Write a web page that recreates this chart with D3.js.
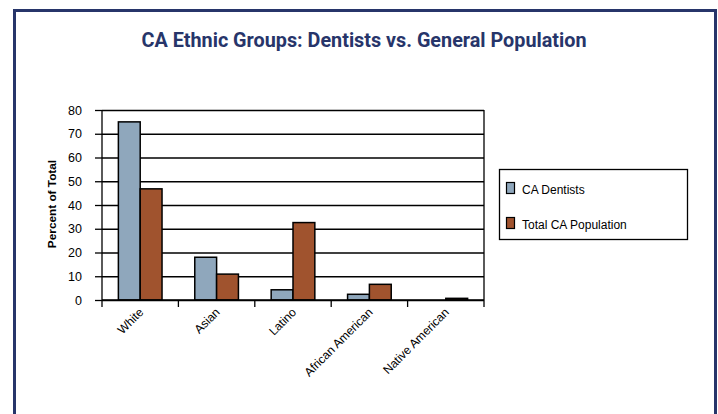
<!DOCTYPE html>
<html>
<head>
<meta charset="utf-8">
<script src="https://cdn.jsdelivr.net/npm/d3@7"></script>
<style>
    html, body { margin: 0; padding: 0; background: #fff; }
    svg { display: block; }
</style>
</head>
<body>
<div id="chart"></div>
<script>
'use strict';

var title = 'CA Ethnic Groups: Dentists vs. General Population';
var yLabel = 'Percent of Total';
var categories = ['White', 'Asian', 'Latino', 'African American', 'Native American'];
var seriesNames = ['CA Dentists', 'Total CA Population'];
var dentists = [75, 18, 4.3, 2.4, 0];
var population = [46.8, 10.9, 32.6, 6.6, 0.7];
var yTicks = [0, 10, 20, 30, 40, 50, 60, 70, 80];

var seriesColors = ['#8fa7bc', '#a0532e'];
var navy = '#27356a';
var width = 718, height = 414;

var svg = d3.select('#chart').append('svg')
    .attr('width', width)
    .attr('height', height);

//frame around the whole thing, open at the bottom
svg.append('path')
    .attr('d', 'M 14.5 ' + (height + 5) + ' L 14.5 10.5 L 715.5 10.5 L 715.5 ' + (height + 5))
    .attr('fill', 'none')
    .attr('stroke', navy)
    .attr('stroke-width', 3);

svg.append('text')
    .attr('x', 364)
    .attr('y', 47)
    .attr('text-anchor', 'middle')
    .attr('font-family', 'Roboto, "DejaVu Sans", sans-serif')
    .attr('font-weight', 'bold')
    .attr('font-size', 20.5)
    .attr('textLength', 445)
    .attr('lengthAdjust', 'spacingAndGlyphs')
    .attr('fill', navy)
    .text(title);

//plot area
var plot = { left: 102, right: 484, top: 110, bottom: 300 };

var x = d3.scaleBand()
    .domain(categories)
    .range([plot.left, plot.right])
    .padding(0);

var x1 = d3.scaleBand()
    .domain(seriesNames)
    .range([0, x.bandwidth()])
    .paddingInner(0)
    .paddingOuter(0.75);

var y = d3.scaleLinear()
    .domain([0, 80])
    .range([plot.bottom, plot.top]);

var font = '"Liberation Sans", Arial, sans-serif';

//gridlines
svg.append('g')
    .attr('transform', 'translate(' + plot.left + ',0)')
    .call(d3.axisLeft(y).tickValues(yTicks).tickSize(-(plot.right - plot.left)).tickFormat(''))
    .call(function(g) { g.select('.domain').remove(); })
    .selectAll('line')
    .attr('stroke', '#000')
    .attr('stroke-width', 1.3);

//right edge of the plot
svg.append('line')
    .attr('x1', plot.right).attr('x2', plot.right)
    .attr('y1', plot.top).attr('y2', plot.bottom + 7)
    .attr('stroke', '#000')
    .attr('stroke-width', 1.3);

//bars
var rows = categories.map(function(c, i) {
    return { category: c, values: [dentists[i], population[i]] };
});

svg.append('g')
    .selectAll('g')
    .data(rows)
    .enter().append('g')
    .attr('transform', function(d) { return 'translate(' + x(d.category) + ',0)'; })
    .selectAll('rect')
    .data(function(d) {
        return d.values.map(function(v, j) { return { name: seriesNames[j], value: v, color: seriesColors[j] }; });
    })
    .enter().append('rect')
    .filter(function(d) { return d.value > 0; })
    .attr('x', function(d) { return x1(d.name); })
    .attr('y', function(d) { return y(d.value); })
    .attr('width', x1.bandwidth())
    .attr('height', function(d) { return y(0) - y(d.value); })
    .attr('fill', function(d) { return d.color; })
    .attr('stroke', '#000')
    .attr('stroke-width', 1.5);

//y axis
var yAxis = svg.append('g')
    .attr('transform', 'translate(' + plot.left + ',0)')
    .call(d3.axisLeft(y).tickValues(yTicks).tickSize(7).tickPadding(13));
yAxis.selectAll('line, path').attr('stroke', '#000').attr('stroke-width', 1.3);
yAxis.select('.domain').attr('d', 'M0,' + plot.top + 'V' + plot.bottom);
yAxis.selectAll('text')
    .attr('font-family', font)
    .attr('font-size', 12.5)
    .attr('fill', '#000');

//x axis line and ticks at the category boundaries
svg.append('line')
    .attr('x1', plot.left).attr('x2', plot.right)
    .attr('y1', plot.bottom).attr('y2', plot.bottom)
    .attr('stroke', '#000')
    .attr('stroke-width', 1.5);

svg.append('g')
    .selectAll('line')
    .data(categories)
    .enter().append('line')
    .attr('x1', function(d) { return x(d); })
    .attr('x2', function(d) { return x(d); })
    .attr('y1', plot.bottom)
    .attr('y2', plot.bottom + 7)
    .attr('stroke', '#000')
    .attr('stroke-width', 1.3);

svg.append('g')
    .selectAll('text')
    .data(categories)
    .enter().append('text')
    .attr('transform', function(d) {
        return 'translate(' + (x(d) + x.bandwidth() / 2 + 4) + ',' + (plot.bottom + 13) + ') rotate(-45)';
    })
    .attr('text-anchor', 'end')
    .attr('font-family', font)
    .attr('font-size', 12)
    .attr('fill', '#000')
    .text(function(d) { return d; });

//y axis title
svg.append('text')
    .attr('transform', 'translate(56,' + ((plot.top + plot.bottom) / 2 - 1) + ') rotate(-90)')
    .attr('text-anchor', 'middle')
    .attr('font-family', font)
    .attr('font-weight', 'bold')
    .attr('font-size', 11.8)
    .attr('fill', '#000')
    .text(yLabel);

//legend
var legend = svg.append('g');
legend.append('rect')
    .attr('x', 499.5).attr('y', 169.5)
    .attr('width', 188).attr('height', 70)
    .attr('fill', '#fff')
    .attr('stroke', '#000')
    .attr('stroke-width', 1.3);

var items = legend.selectAll('g')
    .data(seriesNames)
    .enter().append('g')
    .attr('transform', function(d, i) { return 'translate(0,' + (i * 35) + ')'; });

items.append('rect')
    .attr('x', 506.5).attr('y', 182.5)
    .attr('width', 8).attr('height', 11)
    .attr('fill', function(d, i) { return seriesColors[i]; })
    .attr('stroke', '#000')
    .attr('stroke-width', 1.2);

items.append('text')
    .attr('x', 522)
    .attr('y', 194)
    .attr('font-family', font)
    .attr('font-size', 12)
    .attr('fill', '#000')
    .text(function(d) { return d; });
</script>
</body>
</html>
